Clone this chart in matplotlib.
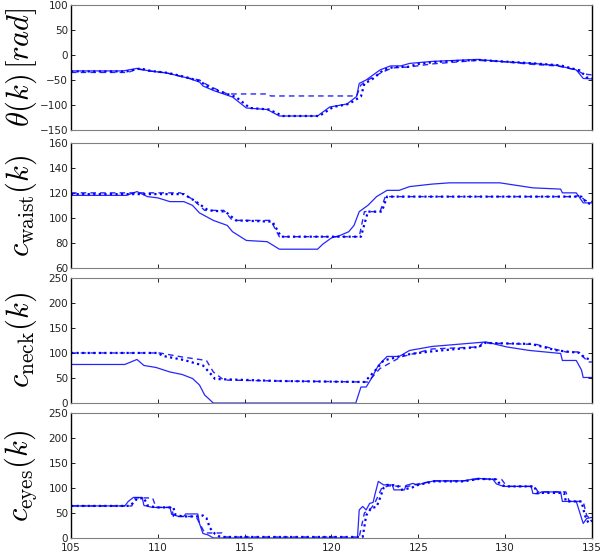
import matplotlib
matplotlib.use('Agg')
import matplotlib.pyplot as plt
import numpy as np

plt.rcParams['mathtext.fontset'] = 'cm'

# ---- data (time k, value) ----
# panel 1: theta(k) [rad]
theta_solid_x = [105, 108.0, 108.8, 109.5, 110.5, 111.7, 112.4, 112.6, 113.2, 114.3, 115.1, 116.3, 117.0,
                 119.2, 119.9, 120.9, 121.45, 121.6, 122.0, 122.8, 123.4, 124.0, 124.5, 125.8, 128.4,
                 129.7, 131.6, 133.0, 134.1, 134.5, 135]
theta_solid_y = [-32, -32, -27, -32, -36, -46, -54, -62, -71, -84, -106, -109, -122,
                 -122, -104, -98, -83, -57, -50, -30, -22, -22, -17, -13, -9,
                 -13, -17, -21, -30, -47, -48]
theta_dash_x = [105, 108.3, 108.8, 109.5, 110.5, 111.7, 112.4, 112.7, 113.2, 114.0, 116.3, 116.5,
                121.45, 121.7, 122.1, 122.9, 123.5, 124.5, 125.8, 128.4, 129.7, 131.6, 133.0, 134.1, 134.5, 135]
theta_dash_y = [-35, -35, -28, -32, -36, -46, -50, -57, -66, -78, -78, -82,
                -82, -60, -50, -35, -26, -24, -18, -11, -13, -19, -22, -30, -38, -40]
theta_dot_x = [105, 108.2, 109.0, 109.6, 110.6, 111.8, 112.5, 112.8, 113.4, 114.5, 115.3, 116.4, 117.2,
               119.3, 120.1, 121.0, 121.7, 121.9, 122.3, 123.0, 123.6, 124.4, 125.0, 126.0, 128.5,
               129.8, 131.7, 133.2, 134.3, 134.7, 135]
theta_dot_y = [-33, -33, -27, -32, -36, -46, -54, -62, -71, -84, -106, -109, -122,
               -122, -104, -98, -83, -57, -50, -30, -24, -24, -18, -14, -10,
               -13, -17, -21, -31, -45, -47]

# panel 2: c_waist(k)
waist_solid_x = [105, 108.2, 108.8, 109.4, 110.0, 110.7, 111.5, 112.0, 112.4, 113.2, 114.0, 114.3, 115.1,
                 116.3, 117.0, 119.2, 119.5, 120.0, 120.5, 121.0, 121.3, 121.6, 122.1, 122.6, 123.2,
                 123.9, 124.5, 125.8, 126.8, 129.7, 131.6, 133.2, 133.3, 134.1, 134.5, 135]
waist_solid_y = [118, 118, 121, 117, 116, 113, 113, 110, 104, 98, 94, 89, 82,
                 81, 75, 75, 79, 84, 86, 89, 94, 105, 110, 117, 122,
                 122, 125, 127, 128, 128, 124, 123, 120, 120, 112, 112]
waist_dash_x = [105, 111.3, 112.0, 112.7, 113.8, 114.3, 116.5, 117.0, 121.6, 121.9, 122.8, 123.1,
                134.0, 134.3, 134.6, 135]
waist_dash_y = [120, 120, 115, 106, 106, 98, 98, 85, 85, 105, 105, 117,
                117, 118, 114, 113]
waist_dot_x = [105, 111.5, 112.2, 112.9, 113.9, 114.5, 116.6, 117.1, 121.7, 122.1, 122.9, 123.2,
               134.0, 134.4, 134.7, 135]
waist_dot_y = [119, 119, 113, 106, 105, 98, 97, 85, 85, 105, 105, 117,
               117, 117, 112, 111]

# panel 3: c_neck(k)
neck_solid_x = [105, 108.1, 108.8, 109.2, 109.9, 110.7, 111.4, 112.0, 112.4, 112.7, 113.2, 121.4,
                121.7, 122.0, 122.3, 122.7, 123.2, 123.9, 124.5, 125.8, 128.9, 130.1, 131.4,
                133.2, 133.3, 134.1, 134.4, 134.5, 135]
neck_solid_y = [77, 77, 87, 75, 71, 62, 57, 49, 36, 16, 0, 0,
                32, 32, 49, 75, 93, 93, 105, 113, 122, 112, 105,
                99, 85, 85, 66, 51, 51]
neck_dash_x = [105, 110.1, 111.4, 112.8, 113.2, 113.8, 117.0, 122.1, 122.8, 124.0, 125.8, 128.5,
               128.7, 131.8, 133.5, 134.2, 134.8, 135]
neck_dash_y = [100, 100, 92, 85, 62, 46, 44, 42, 69, 92, 108, 112,
               120, 117, 102, 102, 82, 82]
neck_dot_x = [105, 110.0, 110.3, 111.5, 112.6, 113.0, 113.3, 117.0, 121.9, 122.2, 122.6, 123.0,
              123.6, 124.2, 125.0, 126.0, 128.5, 128.8, 131.5, 133.0, 134.3, 134.6, 135]
neck_dot_y = [100, 100, 94, 86, 75, 60, 48, 44, 42, 53, 68, 85,
              90, 96, 100, 104, 112, 120, 118, 105, 100, 90, 86]

# panel 4: c_eyes(k)
eyes_solid_x = [105, 108.1, 108.3, 108.6, 109.1, 109.2, 109.7, 110.7, 110.8, 111.2, 111.5, 111.6, 112.3,
                112.4, 112.6, 112.9, 113.2, 121.5, 121.6, 121.8, 122.0, 122.2, 122.4, 122.5, 122.7,
                123.0, 123.5, 123.6, 124.2, 124.3, 124.7, 124.9, 125.3, 125.9, 127.6, 128.4, 129.3,
                129.5, 129.9, 131.5, 131.6, 131.9, 132.1, 133.2, 133.3, 134.1, 134.3, 134.5, 134.7, 135]
eyes_solid_y = [64, 64, 73, 81, 81, 65, 61, 61, 47, 43, 43, 48, 48,
                29, 9, 6, 0, 0, 56, 63, 56, 69, 71, 86, 113,
                106, 106, 96, 96, 105, 109, 106, 109, 114, 114, 119, 117,
                108, 103, 103, 89, 88, 92, 92, 73, 73, 51, 29, 39, 41]
eyes_dash_x = [105, 108.5, 108.7, 109.7, 109.9, 110.8, 110.9, 112.2, 112.4, 112.7, 113.7, 113.9,
               121.6, 121.9, 122.3, 122.5, 122.9, 123.3, 124.4, 125.0, 125.9, 127.6, 128.6,
               129.8, 130.1, 131.7, 131.9, 133.5, 133.7, 134.5, 134.7, 135]
eyes_dash_y = [64, 64, 80, 80, 61, 61, 43, 43, 30, 10, 10, 2,
               2, 50, 60, 70, 100, 104, 103, 108, 114, 114, 118,
               117, 103, 103, 92, 92, 73, 73, 45, 35]
eyes_dot_x = [105, 108.4, 108.8, 109.2, 109.4, 109.9, 110.9, 111.0, 111.4, 112.4, 112.6, 112.8,
              113.0, 113.3, 113.6, 121.8, 122.0, 122.3, 122.6, 122.8, 123.0, 123.2, 123.8,
              124.0, 124.6, 125.0, 125.9, 127.6, 128.5, 129.5, 129.7, 130.0, 131.7, 131.8,
              133.4, 133.5, 134.4, 134.6, 134.8, 135]
eyes_dot_y = [64, 64, 78, 80, 65, 61, 61, 47, 43, 43, 45, 40,
              20, 8, 2, 2, 45, 60, 62, 80, 100, 106, 105,
              96, 100, 106, 113, 113, 118, 117, 108, 103, 103, 90,
              90, 73, 73, 45, 30, 35]

panels = [
    (r'$\theta(k)\,[rad]$', (-150, 100), [-150, -100, -50, 0, 50, 100],
     (theta_solid_x, theta_solid_y), (theta_dash_x, theta_dash_y), (theta_dot_x, theta_dot_y)),
    (r'$c_{\rm waist}(k)$', (60, 160), [60, 80, 100, 120, 140, 160],
     (waist_solid_x, waist_solid_y), (waist_dash_x, waist_dash_y), (waist_dot_x, waist_dot_y)),
    (r'$c_{\rm neck}(k)$', (0, 250), [0, 50, 100, 150, 200, 250],
     (neck_solid_x, neck_solid_y), (neck_dash_x, neck_dash_y), (neck_dot_x, neck_dot_y)),
    (r'$c_{\rm eyes}(k)$', (0, 250), [0, 50, 100, 150, 200, 250],
     (eyes_solid_x, eyes_solid_y), (eyes_dash_x, eyes_dash_y), (eyes_dot_x, eyes_dot_y)),
]

xticks = [105, 110, 115, 120, 125, 130, 135]
blue = '#0000ff'

fig = plt.figure(figsize=(6.14, 5.59), dpi=100)
left, width = 0.1156, 0.8484
bottoms = [0.7674, 0.5206, 0.279, 0.0376]
height = 0.224

for i, (label, ylim, yticks, solid, dash, dot) in enumerate(panels):
    ax = fig.add_axes([left, bottoms[i], width, height])
    ax.plot(solid[0], solid[1], color=blue, lw=0.9, alpha=0.85)
    ax.plot(dash[0], dash[1], color=blue, lw=1.0, ls=(0, (4, 3)), alpha=0.85)
    ax.plot(dot[0], dot[1], color=blue, lw=1.6, ls=(0, (1, 1.5)))
    ax.set_xlim(105, 135)
    ax.set_ylim(*ylim)
    ax.set_yticks(yticks)
    ax.set_xticks(xticks)
    ax.tick_params(direction='in', top=True, right=True, length=3, width=0.6,
                   labelsize=7.5, labelcolor='#222222', pad=2)
    ax.tick_params(axis='x', pad=3.5)
    if i < 3:
        ax.tick_params(labelbottom=False)
    for side in ['left', 'right']:
        ax.spines[side].set_color('black')
        ax.spines[side].set_linewidth(1.0)
    for side in ['top', 'bottom']:
        ax.spines[side].set_color('#808080')
        ax.spines[side].set_linewidth(0.8)
    ax.set_ylabel(label, fontsize=22)
    ax.yaxis.set_label_coords(-0.062, 0.5)

fig.savefig('out.png', dpi=100)
